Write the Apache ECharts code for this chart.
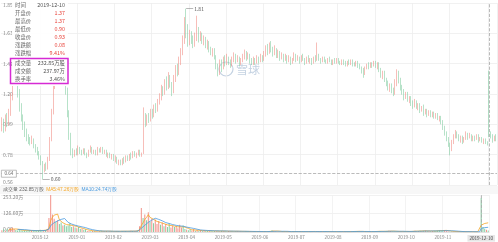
<!DOCTYPE html>
<html><head><meta charset="utf-8">
<script src="https://cdn.jsdelivr.net/npm/echarts@6/dist/echarts.min.js"></script>
<style>html,body{margin:0;padding:0;background:#fff}#c{width:498px;height:242px}</style>
</head><body><div id="c"></div>
<script>
// Daily candles: [open, close, low, high] in cents
const candles = [
[96,102,94,104],[101,95,93,103],[95,104,94,106],[103,99,97,107],[99,108,98,110],[107,118,105,121],
[118,130,116,133],[130,142,128,146],[141,132,129,144],[131,122,118,134],
[122,112,108,124],[112,104,101,114],[104,98,95,106],[99,93,90,101],[94,90,87,96],[90,88,85,92],
[88,86,84,90],[86,89,85,91],[88,84,82,89],[84,81,79,85],[81,79,77,83],
[79,76,74,80],[76,72,70,77],[72,66,60,73],[67,70,65,71],[70,68,66,72],[68,74,67,76],
[74,88,73,90],[88,108,87,110],[108,128,106,131],
[127,140,124,143],[140,134,130,146],[134,145,132,148],[144,138,134,147],[138,131,128,141],[131,136,128,139],[135,124,120,137],
[123,108,104,125],[107,92,88,109],[91,80,77,93],
[80,77,75,82],[77,80,76,81],[80,78,77,82],[78,82,77,84],[82,80,78,83],[80,79,77,81],[79,81,78,82],[81,78,77,82],[78,77,75,79],[77,80,76,81],
[80,82,79,84],[82,79,78,83],[79,80,78,81],[80,78,77,81],[78,81,77,83],[81,80,79,82],[80,82,79,83],[82,79,78,83],[79,80,78,81],[80,77,76,81],
[77,78,75,79],[78,76,75,79],[76,77,74,78],
[77,74,73,78],[74,75,72,77],[75,72,71,76],[72,73,70,74],[73,71,70,74],[71,74,70,75],[74,73,71,76],[73,75,72,77],[75,74,73,77],
[74,77,73,78],[77,76,74,79],[76,79,75,80],[79,77,76,80],[77,78,75,79],[78,80,77,81],[80,77,76,81],[77,78,76,79],
[79,105,78,111],
[105,100,97,107],[100,104,98,106],[104,102,100,107],[102,108,101,110],[108,105,103,110],[105,111,104,113],[111,109,107,114],[109,115,108,117],[115,118,113,121],
[118,124,116,127],[124,121,119,126],[121,128,120,131],[128,126,123,133],[126,132,124,136],[132,127,125,134],[127,122,119,129],
[122,131,121,134],[131,138,129,141],[138,135,133,142],[135,144,134,147],[144,150,141,153],[150,158,148,162],
[158,172,156,175],[172,166,160,181],[166,158,154,170],
[158,163,155,166],[163,159,156,165],[159,155,153,162],[155,162,154,164],[162,166,158,176],[166,160,157,168],[160,163,158,165],
[163,158,156,164],[158,160,155,162],[160,155,153,161],[155,157,152,159],[157,152,150,158],[152,150,148,154],[150,152,147,153],[152,147,145,153],
[147,141,138,148],[141,136,133,142],[136,143,134,145],[143,139,136,145],
[139,145,138,147],[145,142,140,148],[142,146,141,149],[146,143,141,147],[143,141,139,145],[141,145,140,147],[145,148,143,150],[148,144,142,149],[144,146,143,148],[146,142,140,147],[142,144,141,146],
[144,147,143,149],[147,150,145,152],[150,146,144,151],[146,148,145,150],[148,144,142,149],[144,142,141,146],[142,145,141,147],[145,143,141,146],[143,146,142,148],[146,144,142,147],[144,147,143,149],[147,145,143,148],[145,149,144,151],
[149,153,147,155],[153,150,148,156],[150,155,149,157],[155,152,150,158],[152,149,147,154],[149,152,148,155],[152,148,146,153],[148,150,146,152],[150,146,144,151],[146,148,145,150],[148,145,143,149],
[145,147,144,149],[147,144,142,148],[144,146,143,148],[146,143,141,147],[143,145,142,146],[145,148,144,150],[148,145,143,149],[145,146,144,148],[146,144,142,147],[144,147,143,148],
[147,145,144,149],[145,143,141,146],[143,146,142,147],[146,144,143,148],[144,145,142,146],[145,143,141,146],[143,146,142,147],
[146,145,143,148],[145,148,144,157],
[148,145,144,149],[145,144,142,146],[144,146,143,147],[146,144,143,147],[144,143,142,145],[143,145,142,146],[145,144,143,147],[144,142,141,145],[142,144,141,145],[144,143,142,146],[143,145,142,146],[145,143,142,146],[143,142,141,144],
[142,144,141,145],[144,143,141,145],[143,141,140,144],[141,143,140,144],[143,142,141,145],[142,144,141,145],[144,142,140,145],[142,141,140,143],[141,143,140,144],[143,141,139,144],
[141,139,138,142],[139,137,135,140],[137,135,132,139],[135,139,134,140],[139,141,138,142],[141,140,138,143],[140,142,139,143],
[142,141,139,143],[141,143,140,144],[143,140,139,144],[140,142,138,143],
[142,138,136,143],[138,134,132,139],[134,136,131,137],[136,131,129,137],[131,128,126,132],[128,125,123,130],[125,127,122,128],[127,123,121,128],[123,121,119,125],
[121,128,120,131],[128,135,126,138],[135,130,128,137],[130,125,123,132],[125,122,120,127],[122,118,116,124],
[118,121,117,122],[121,116,115,122],[116,118,114,119],[118,114,112,119],[114,112,110,116],[112,115,111,117],[115,111,110,116],[111,113,109,114],[113,109,107,114],[109,111,108,112],[111,107,105,113],[107,109,106,110],[109,106,104,110],
[106,108,105,109],[108,105,104,109],[105,107,104,108],[107,104,103,108],[104,106,103,107],[106,103,102,107],[103,104,101,105],[104,101,99,105],
[101,97,95,102],[97,93,91,98],[93,89,87,94],[89,85,83,90],[85,81,77,86],[81,86,80,88],
[86,90,85,92],[90,93,89,95],[93,91,89,94],[91,88,87,92],[88,90,86,91],[90,87,85,91],[87,89,86,90],[89,92,88,94],[92,90,88,93],[90,91,89,93],
[91,88,87,92],[88,90,87,91],[90,89,87,91],[89,91,88,92],[91,88,86,92],[88,89,87,90],[89,87,86,90],[87,88,85,89],[88,86,85,89],[86,85,84,87],
[137,93,90,137],
[93,91,89,94],[91,88,86,92],[88,90,87,91],[90,89,87,92]
];
// Daily volume, 万股
const volumes = [
12,18,9,22,15,25,30,20,14,10,16,12,8,11,9,7,13,10,8,6,9,12,15,10,8,14,20,
95,253.2,120,90,70,80,55,65,45,50,40,45,60,35,40,30,25,35,20,22,15,18,
6,8,5,7,9,6,4,5,8,6,5,7,4,6,5,3,4,6,5,4,7,5,6,4,5,8,6,5,7,9,
40,164,95,120,80,135,70,90,60,85,55,75,50,65,40,55,35,60,30,45,35,40,25,50,30,45,20,
15,12,18,10,20,8,14,9,12,7,10,6,9,8,11,5,7,6,9,5,8,6,7,4,6,5,7,4,5,6,4,5,3,4,5,
3,4,2,3,5,3,4,2,3,4, 3,2,4,5,12,8,4,3,2,3, 4,3,2,3,4,2,3,5,3,2, 3,4,2,3,2,4,3,6,3,2,
3,2,4,3,2,3,2,4,3,2, 2,3,2,4,3,2,3,2,3,4, 3,4,5,6,4,3,2,3,2,3, 2,3,4,5,4,6,5,4,3,5,
6,8,7,5,4,3,4,3,5,4, 3,4,3,5,4,
6,8,5,7,9,6,8,10,7,6,5,7,9,8,10,12,9,11,14,8,
5,4,3,4,2,3,2,3,2,
1.8,3.0,2.4,1.8,2.2,1.7,0.9,1.0,0.8,0.75,
232.85,
35,22,15,10
];
const monthLabels = ['2018-12','2019-01','2019-02','2019-03','2019-04','2019-05','2019-06','2019-07','2019-08','2019-09','2019-10','2019-11'];
const firstMonthIdx = 22, monthStep = 21;
const crossIdx = 275, crossDate = '2019-12-10', crossPrice = 0.64, crossPriceText = '0.64';
const priceTicks = ['0.56','0.78','0.99','1.20','1.42','1.63','1.85'];
const priceMin = 0.56, priceMax = 1.85;
const volTicks = ['0.00','126.60万','253.20万'];
const volMax = 253.2;
const highMark = {idx:104, value:1.81, text:'1.81'};
const lowMark = {idx:23, value:0.60, text:'0.60'};
const tipLabels = ['时间','开盘价','最高价','最低价','收盘价','涨跌额','涨跌幅','成交量','成交额','换手率'];
const tipValues = ['2019-12-10','1.37','1.37','0.90','0.93','0.08','9.41%','232.85万股','237.97万','3.46%'];
const legendTexts = ['成交量 232.85万股','MA5:47.26万股','MA10:24.74万股'];

const UP = '#f2928a', DOWN = '#86cfa4';
const FONT = '"Noto Sans CJK SC","Noto Sans",sans-serif';

const cats = candles.map((_, i) => String(i));
const labelAt = {};
monthLabels.forEach((m, k) => { labelAt[firstMonthIdx + k * monthStep] = m; });
const isMonth = i => labelAt[i] !== undefined;
labelAt[crossIdx] = crossDate;

const ohlc = candles.map(c => c.map(v => v / 100));
function ma(n) {
  return volumes.map((v, i) => {
    if (i < n - 1) return '-';
    let s = 0; for (let k = i - n + 1; k <= i; k++) s += volumes[k];
    return +(s / n).toFixed(3);
  });
}

const chart = echarts.init(document.getElementById('c'), null, {renderer:'canvas'});

const rowY = [5,13,21,29,37,45,53,63,71,79];
const tipGraphics = [];
tipGraphics.push({type:'rect', z:100, shape:{x:12, y:0, width:56, height:86}, style:{fill:'rgba(255,255,255,0.94)'}});
tipLabels.forEach((t, k) => {
  tipGraphics.push({type:'text', z:101, x:15, y:rowY[k], style:{text:t, fill:'#666', font:'5.4px ' + FONT, textAlign:'left', textVerticalAlign:'middle'}});
  const red = k >= 1 && k <= 6;
  tipGraphics.push({type:'text', z:101, x:65, y:rowY[k], style:{text:tipValues[k], fill: red ? '#e8453c' : '#555', font:'5.4px ' + FONT, textAlign:'right', textVerticalAlign:'middle'}});
});
tipGraphics.push({type:'rect', z:102, shape:{x:10.5, y:58.5, width:57.5, height:25}, style:{fill:'none', stroke:'#d62ad4', lineWidth:1.5}});

const axisLabelBase = {inside:true, margin:2, fontSize:5, color:'#888'};
const edgeRich = {t:{padding:[5,0,0,0], fontSize:5, color:'#888'}, b:{padding:[0,0,5,0], fontSize:5, color:'#888'}};

const option = {
  animation: false,
  textStyle: {fontFamily: FONT},
  grid: [
    {left:1, right:1, top:3, height:182},
    {left:1, right:1, top:195, height:37}
  ],
  xAxis: [
    {type:'category', gridIndex:0, data:cats, boundaryGap:true,
      axisLine:{show:false}, axisTick:{show:false}, axisLabel:{show:false},
      splitLine:{show:true, interval:(i) => isMonth(i), lineStyle:{color:'#eeeeee', width:0.8}}},
    {type:'category', gridIndex:1, data:cats, boundaryGap:true,
      axisLine:{show:true, lineStyle:{color:'#dddddd', width:0.8}}, axisTick:{show:false},
      splitLine:{show:true, interval:(i) => isMonth(i), lineStyle:{color:'#f0f0f0', width:0.8}},
      axisLabel:{show:true, interval:(i) => labelAt[i] !== undefined, margin:3, fontSize:4.6, color:'#888',
        formatter:(v, i) => i === crossIdx ? '{x|' + labelAt[i] + '}' : (labelAt[i] || ''),
        rich:{x:{backgroundColor:'#e6e6e6', color:'#444', fontSize:4.6, padding:[1,2,1,2]}}}}
  ],
  yAxis: [
    {type:'value', gridIndex:0, position:'left', min:priceMin, max:priceMax, show:false},
    {type:'value', gridIndex:0, position:'left', min:0, max:priceTicks.length - 1, interval:1,
      axisLine:{show:false}, axisTick:{show:false},
      splitLine:{show:true, lineStyle:{color:'#eeeeee', width:0.8}},
      axisLabel:Object.assign({}, axisLabelBase, {
        formatter:(v) => v === priceTicks.length - 1 ? '{t|' + priceTicks[v] + '}' : (v === 0 ? '{b|' + priceTicks[v] + '}' : priceTicks[v]),
        rich:edgeRich})},
    {type:'value', gridIndex:1, position:'left', min:0, max:volMax, interval:volMax / 2,
      axisLine:{show:false}, axisTick:{show:false},
      splitLine:{show:true, lineStyle:{color:'#eeeeee', width:0.8}},
      axisLabel:Object.assign({}, axisLabelBase, {
        formatter:(v, i) => i === volTicks.length - 1 ? '{t|' + volTicks[i] + '}' : (i === 0 ? '{b|' + volTicks[i] + '}' : volTicks[i]),
        rich:edgeRich})}
  ],
  series: [
    {type:'candlestick', xAxisIndex:0, yAxisIndex:0, data:ohlc, barWidth:1, z:3,
      itemStyle:{color:UP, color0:DOWN, borderColor:UP, borderColor0:DOWN, borderWidth:0.6},
      markLine:{silent:true, symbol:['none','none'], animation:false,
        label:{show:false},
        data:[
          {xAxis:crossIdx, lineStyle:{type:'dashed', color:'#aaaaaa', width:0.8}},
          {yAxis:crossPrice, lineStyle:{type:'dashed', color:'#aaaaaa', width:0.8}},
          [{coord:[highMark.idx, highMark.value], lineStyle:{type:'solid', color:'#888', width:0.6},
            label:{show:true, position:'end', formatter:highMark.text, fontSize:5, color:'#555', distance:1}},
           {coord:[highMark.idx + 4, highMark.value]}],
          [{coord:[lowMark.idx, lowMark.value], lineStyle:{type:'solid', color:'#888', width:0.6},
            label:{show:true, position:'end', formatter:lowMark.text, fontSize:5, color:'#555', distance:1}},
           {coord:[lowMark.idx + 4, lowMark.value]}]
        ]},
      markPoint:{silent:true, animation:false,
        data:[{coord:[0, crossPrice], symbol:'rect', symbolSize:[15,7], symbolOffset:[7,0],
          itemStyle:{color:'#ffffff', borderColor:'#999', borderWidth:0.6},
          label:{show:true, position:'inside', formatter:crossPriceText, fontSize:4.6, color:'#666'}}]}
    },
    {type:'bar', xAxisIndex:1, yAxisIndex:2, data:volumes, barWidth:1, z:2,
      itemStyle:{color:(p) => { const c = candles[p.dataIndex]; return c[1] >= c[0] ? UP : DOWN; }},
      markLine:{silent:true, symbol:['none','none'], label:{show:false},
        data:[{xAxis:crossIdx, lineStyle:{type:'dashed', color:'#aaaaaa', width:0.8}}]}},
    {type:'line', name:'MA5', xAxisIndex:1, yAxisIndex:2, data:ma(5), showSymbol:false, z:4,
      lineStyle:{color:'#f5a623', width:0.8}},
    {type:'line', name:'MA10', xAxisIndex:1, yAxisIndex:2, data:ma(10), showSymbol:false, z:4,
      lineStyle:{color:'#4a9be0', width:0.8}}
  ],
  graphic: [
    {type:'circle', z:0, shape:{cx:226, cy:69, r:7}, style:{fill:'none', stroke:'#c4d2e2', lineWidth:1.2}},
    {type:'text', z:0, x:236, y:69, style:{text:'雪球', fill:'#c4d2e2', font:'12px ' + FONT, textVerticalAlign:'middle'}},
    {type:'rect', z:0, shape:{x:0, y:186, width:498, height:8}, style:{fill:'#f7f7f7'}},
    {type:'text', z:5, x:3, y:190, style:{
      text:'{a|' + legendTexts[0] + '}  {b|' + legendTexts[1] + '}  {c|' + legendTexts[2] + '}',
      font:'4.8px ' + FONT, textVerticalAlign:'middle',
      rich:{a:{fill:'#666', fontSize:4.8}, b:{fill:'#f5a623', fontSize:4.8}, c:{fill:'#4a9be0', fontSize:4.8}}}}
  ].concat(tipGraphics)
};
chart.setOption(option);
</script>
</body></html>
